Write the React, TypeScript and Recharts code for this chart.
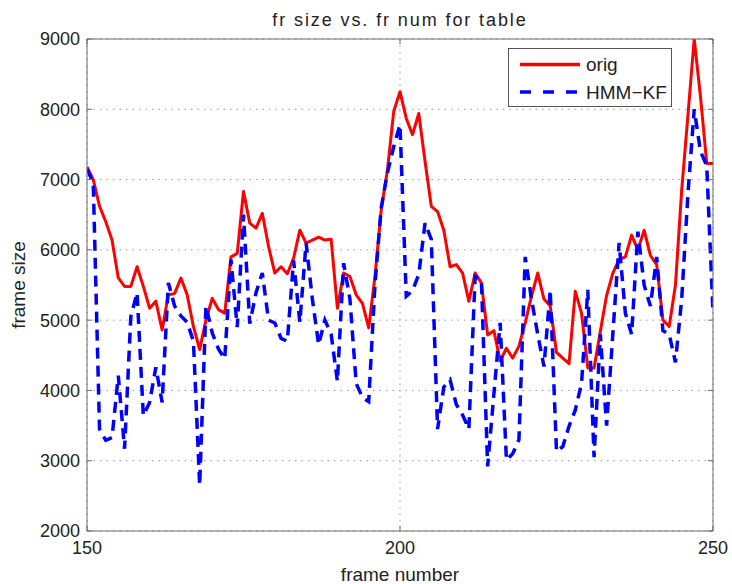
import React from 'react';
import {
  LineChart, Line, XAxis, YAxis, CartesianGrid, Legend, Label,
} from 'recharts';

const frames = [
  150, 151, 152, 153, 154, 155, 156, 157, 158, 159,
  160, 161, 162, 163, 164, 165, 166, 167, 168, 169,
  170, 171, 172, 173, 174, 175, 176, 177, 178, 179,
  180, 181, 182, 183, 184, 185, 186, 187, 188, 189,
  190, 191, 192, 193, 194, 195, 196, 197, 198, 199,
  200, 201, 202, 203, 204, 205, 206, 207, 208, 209,
  210, 211, 212, 213, 214, 215, 216, 217, 218, 219,
  220, 221, 222, 223, 224, 225, 226, 227, 228, 229,
  230, 231, 232, 233, 234, 235, 236, 237, 238, 239,
  240, 241, 242, 243, 244, 245, 246, 247, 248, 249,
  250,
];

const origSizes = [
  7180, 7000, 6620, 6400, 6140, 5600, 5480, 5480, 5760, 5480,
  5170, 5270, 4860, 5360, 5380, 5600, 5360, 4910, 4580, 5000,
  5310, 5150, 5100, 5900, 5950, 6830, 6380, 6310, 6520, 6050,
  5670, 5760, 5660, 5880, 6280, 6095, 6140, 6180, 6140, 6150,
  5170, 5670, 5620, 5360, 5240, 4890, 5620, 6570, 7140, 7970,
  8250, 7870, 7640, 7940, 7260, 6620, 6545, 6280, 5760, 5790,
  5670, 5270, 5670, 5530, 4790, 4850, 4420, 4600, 4460, 4630,
  4960, 5340, 5670, 5300, 5200, 4540, 4460, 4380, 5410, 5100,
  4320, 4320, 4840, 5350, 5670, 5860, 5900, 6210, 6000, 6280,
  5920, 5790, 5000, 4910, 5500, 6850, 7920, 9000, 8180, 7230,
  7230,
];

const hmmKfSizes = [
  7150, 6950, 3450, 3290, 3330, 4210, 3170, 5050, 5390, 3640,
  3830, 4330, 3830, 5530, 5200, 5060, 4970, 4700, 2650, 5200,
  4820, 4590, 4450, 5860, 4900, 6500, 4950, 5390, 5670, 5000,
  4960, 4740, 4700, 5850, 4970, 6100, 5300, 4650, 5000, 4800,
  4130, 5810, 5300, 4100, 3900, 3840, 5500, 6600, 7100, 7470,
  7780, 5340, 5420, 5650, 6380, 6150, 3450, 4050, 4150, 3800,
  3650, 3450, 5620, 5570, 2920, 3950, 4960, 3010, 3100, 3300,
  5900, 5300, 4800, 4340, 5430, 3130, 3200, 3490, 3720, 4100,
  5430, 3050, 4800, 3500, 4800, 6100, 5100, 4800, 6260, 5500,
  5200, 5900, 4850, 4800, 4400, 5300, 6800, 8000, 7400, 7200,
  5100,
];

const xTicks = [150, 200, 250];
const yTicks = [2000, 3000, 4000, 5000, 6000, 7000, 8000, 9000];

const seriesNames = ['orig', 'HMM\u2212KF'];
const titleText = 'fr size vs. fr num for table';
const xLabelText = 'frame number';
const yLabelText = 'frame size';

const data = frames.map((f, i) => ({
  frame: f,
  orig: origSizes[i],
  hmm: hmmKfSizes[i],
}));

const FONT = '"Liberation Sans", Arial, Helvetica, sans-serif';
const AXIS = '#6b6b6b';
const TXT = '#222';

const renderLegend = (props: any) => {
  const items = [...(props.payload || [])].sort(
    (a: any, b: any) => seriesNames.indexOf(a.value) - seriesNames.indexOf(b.value),
  );
  return (
    <svg width={164} height={59} style={{ display: 'block', overflow: 'visible' }}>
      <rect x={0.5} y={0.5} width={163} height={58} fill="#fff" stroke="#555" strokeWidth={1} />
      {items.map((it: any, i: number) => {
        const y = 16.5 + i * 27.5;
        const dash = it.payload && it.payload.strokeDasharray;
        return (
          <g key={i}>
            <line x1={12} x2={72} y1={y} y2={y} stroke={it.color} strokeWidth={3.5}
              strokeDasharray={dash ? '11 12' : undefined} />
            <text x={78} y={y} dy="0.36em" fontSize={19} fill={TXT} fontFamily={FONT}>{it.value}</text>
          </g>
        );
      })}
    </svg>
  );
};

export default function App() {
  return (
    <div style={{ position: 'fixed', left: 0, top: 0, width: 732, height: 584, background: '#fff', fontFamily: FONT }}>
      <LineChart width={732} height={584} data={data}
        margin={{ top: 38, right: 18, bottom: 0, left: 0 }}
        style={{ fontFamily: FONT }}>
        <CartesianGrid xAxisId="bottom" yAxisId="left" stroke="#9a9a9a" strokeDasharray="1.5 5" strokeWidth={1} />
        <XAxis xAxisId="bottom" dataKey="frame" type="number" domain={[150, 250]} ticks={xTicks}
          height={53} tickSize={-5} tickMargin={15} stroke={AXIS}
          tick={{ fill: TXT, fontSize: 18, fontFamily: FONT }} allowDataOverflow>
          <Label value={xLabelText} position="insideBottom" offset={3} fill={TXT} fontSize={19} fontFamily={FONT} />
        </XAxis>
        <XAxis xAxisId="top" dataKey="frame" type="number" orientation="top" domain={[150, 250]} ticks={xTicks}
          height={1} tickSize={-5} stroke={AXIS} tickFormatter={() => ''} allowDataOverflow>
          <Label value={titleText} position="top" offset={12} fill={TXT} fontSize={18} fontFamily={FONT}
            style={{ letterSpacing: '1.9px' }} />
        </XAxis>
        <YAxis yAxisId="left" type="number" domain={[2000, 9000]} ticks={yTicks} width={87}
          tickSize={-5} tickMargin={12} stroke={AXIS}
          tick={{ fill: TXT, fontSize: 18, fontFamily: FONT }} allowDataOverflow>
          <Label value={yLabelText} angle={-90} position="insideLeft" offset={18} fill={TXT} fontSize={19}
            fontFamily={FONT} style={{ textAnchor: 'middle' }} />
        </YAxis>
        <YAxis yAxisId="right" orientation="right" type="number" domain={[2000, 9000]} ticks={yTicks} width={1}
          tickSize={-5} stroke={AXIS} tickFormatter={() => ''} allowDataOverflow />
        <Legend layout="vertical" align="center" verticalAlign="middle" content={renderLegend}
          wrapperStyle={{ left: 508, top: 48, width: 164, height: 59 }} />
        <Line xAxisId="bottom" yAxisId="left" type="linear" dataKey="orig" name={seriesNames[0]} stroke="#ff0000"
          strokeWidth={3} dot={false} activeDot={false} isAnimationActive={false} strokeLinejoin="round" />
        <Line xAxisId="bottom" yAxisId="left" type="linear" dataKey="hmm" name={seriesNames[1]} stroke="#0000ff"
          strokeWidth={3.5} strokeDasharray="11 7" dot={false} activeDot={false} isAnimationActive={false} />
      </LineChart>
    </div>
  );
}
